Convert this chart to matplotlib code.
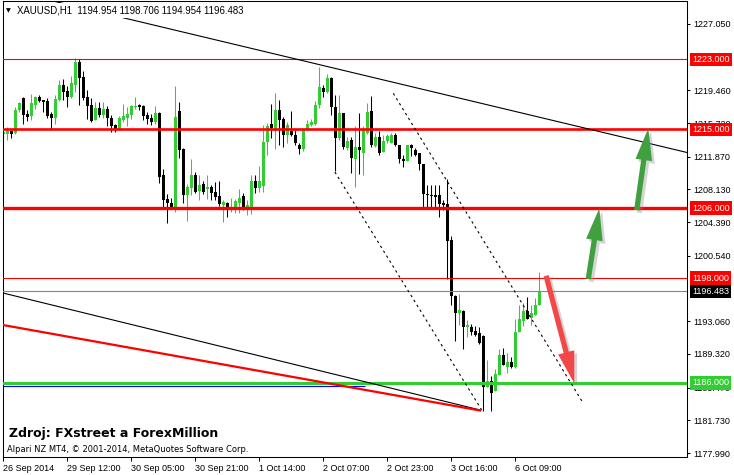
import matplotlib
matplotlib.use("Agg")
import matplotlib.pyplot as plt
import matplotlib.patheffects as pe
from matplotlib.transforms import blended_transform_factory
import numpy as np

plt.rcParams['font.family'] = ['Liberation Sans', 'DejaVu Sans']

# ---------------- data (XAUUSD, H1) ----------------
opens = [1214.43, 1214.50, 1214.81, 1214.58, 1217.18, 1218.55, 1216.72, 1216.49, 1217.78, 1218.70,
         1218.32, 1218.24, 1216.72, 1216.26, 1218.39, 1220.07, 1219.38, 1218.70, 1220.07, 1222.73,
         1220.98, 1218.70, 1217.78, 1216.10, 1217.47, 1216.64, 1217.33, 1216.26, 1215.50, 1214.96,
         1216.10, 1216.26, 1216.64, 1217.55, 1217.78, 1217.70, 1216.64, 1216.33, 1215.87, 1216.87,
         1209.78, 1207.03, 1206.58, 1205.89, 1217.10, 1212.75, 1207.49, 1208.33, 1209.78, 1207.95,
         1208.78, 1208.18, 1208.41, 1207.87, 1207.41, 1206.35, 1206.58, 1205.89, 1205.89, 1206.58,
         1207.34, 1205.89, 1206.12, 1209.09, 1208.26, 1208.52, 1213.52, 1215.65, 1214.78, 1217.21,
         1216.22, 1214.32, 1214.78, 1214.32, 1213.24, 1212.72, 1215.00, 1215.53, 1215.61, 1217.75,
         1219.73, 1219.27, 1220.87, 1217.59, 1214.01, 1216.90, 1212.87, 1213.78, 1211.57, 1212.95,
         1212.26, 1214.62, 1217.06, 1213.09, 1214.09, 1212.41, 1213.63, 1213.40, 1214.32, 1213.18,
         1211.64, 1211.41, 1213.18, 1212.64, 1212.26, 1211.04, 1207.53, 1207.53, 1207.53, 1207.46,
         1206.61, 1206.46, 1202.35, 1195.94, 1193.96, 1194.26, 1192.36, 1192.43, 1191.91, 1191.75,
         1191.37, 1185.57, 1186.19, 1185.04, 1186.87, 1189.23, 1187.86, 1188.40, 1187.79, 1191.83,
         1193.12, 1194.26, 1193.43, 1193.80, 1194.954]
highs = [1215.04, 1215.27, 1214.96, 1217.55, 1218.09, 1218.70, 1217.18, 1219.01, 1218.78, 1218.93,
         1218.39, 1218.62, 1216.95, 1218.93, 1220.61, 1220.76, 1219.99, 1221.13, 1223.12, 1223.04,
         1221.67, 1219.53, 1218.62, 1218.16, 1218.16, 1218.16, 1217.70, 1216.64, 1215.61, 1216.49,
         1217.86, 1217.55, 1217.78, 1218.70, 1217.93, 1217.78, 1217.02, 1216.79, 1217.70, 1217.02,
         1210.46, 1207.64, 1207.11, 1219.92, 1218.16, 1212.90, 1208.72, 1211.61, 1210.09, 1209.78,
         1209.09, 1209.78, 1208.64, 1209.01, 1209.09, 1206.95, 1206.73, 1207.18, 1207.03, 1208.18,
         1207.72, 1206.89, 1209.78, 1209.78, 1210.84, 1215.50, 1215.72, 1217.93, 1219.12, 1218.36,
         1216.41, 1215.84, 1217.06, 1214.92, 1213.40, 1215.15, 1216.07, 1216.22, 1218.27, 1222.16,
         1220.10, 1221.33, 1220.95, 1218.96, 1218.96, 1216.90, 1214.16, 1214.09, 1215.38, 1216.90,
         1215.38, 1218.05, 1218.81, 1214.62, 1214.84, 1214.32, 1214.47, 1214.55, 1214.55, 1213.24,
         1212.03, 1213.24, 1213.32, 1212.87, 1212.33, 1211.04, 1208.64, 1208.67, 1208.67, 1208.67,
         1206.92, 1209.29, 1202.80, 1196.06, 1196.17, 1194.34, 1193.20, 1192.74, 1192.51, 1192.43,
         1191.52, 1188.62, 1186.79, 1187.63, 1189.92, 1190.00, 1189.46, 1189.00, 1193.35, 1194.95,
         1195.11, 1195.86, 1194.95, 1195.71, 1198.706]
lows = [1213.29, 1213.82, 1213.98, 1214.50, 1216.95, 1215.58, 1215.95, 1216.10, 1217.33, 1218.09,
        1217.02, 1216.26, 1215.04, 1215.65, 1218.24, 1218.39, 1217.55, 1218.62, 1219.30, 1217.78,
        1218.32, 1216.18, 1215.81, 1216.03, 1216.41, 1216.26, 1215.42, 1214.66, 1214.66, 1214.92,
        1215.81, 1215.35, 1216.18, 1217.33, 1217.18, 1216.10, 1215.65, 1215.50, 1215.65, 1208.86,
        1206.04, 1204.29, 1205.89, 1205.51, 1211.69, 1206.58, 1204.52, 1207.49, 1207.72, 1206.95,
        1207.64, 1207.03, 1206.95, 1206.89, 1206.27, 1204.44, 1204.98, 1205.58, 1205.43, 1205.43,
        1205.74, 1205.20, 1205.35, 1207.72, 1207.80, 1207.80, 1212.07, 1213.98, 1212.72, 1213.18,
        1213.02, 1213.40, 1214.24, 1213.18, 1212.18, 1212.49, 1214.92, 1215.38, 1215.46, 1217.44,
        1218.73, 1219.19, 1216.61, 1210.27, 1213.78, 1212.72, 1212.64, 1210.04, 1208.44, 1209.89,
        1209.74, 1214.47, 1212.95, 1213.02, 1212.03, 1212.41, 1213.47, 1213.40, 1213.09, 1211.12,
        1210.73, 1211.35, 1211.95, 1211.95, 1210.35, 1206.15, 1206.12, 1206.09, 1206.15, 1205.01,
        1205.77, 1197.92, 1194.95, 1190.83, 1192.59, 1189.85, 1191.22, 1191.45, 1191.37, 1190.45,
        1182.83, 1185.57, 1182.83, 1185.04, 1186.87, 1188.02, 1187.17, 1187.71, 1187.71, 1191.83,
        1192.51, 1193.35, 1192.59, 1193.80, 1194.954]
closes = [1214.73, 1214.81, 1214.50, 1217.18, 1218.01, 1216.64, 1216.41, 1218.01, 1218.70, 1218.24,
          1218.16, 1216.49, 1216.26, 1218.47, 1220.07, 1219.24, 1218.70, 1220.30, 1222.73, 1220.90,
          1218.62, 1217.70, 1215.95, 1217.41, 1216.64, 1217.33, 1216.26, 1215.42, 1214.96, 1216.33,
          1216.49, 1216.79, 1217.70, 1217.70, 1217.55, 1216.56, 1216.18, 1215.87, 1216.87, 1209.55,
          1206.95, 1206.58, 1205.97, 1216.41, 1212.67, 1207.49, 1208.41, 1209.78, 1207.87, 1208.64,
          1207.80, 1208.41, 1207.72, 1207.26, 1206.43, 1206.66, 1205.89, 1206.12, 1206.81, 1207.18,
          1205.89, 1206.35, 1209.09, 1208.26, 1209.09, 1213.52, 1215.35, 1215.19, 1217.21, 1216.07,
          1214.32, 1215.46, 1214.32, 1213.40, 1212.72, 1215.07, 1215.61, 1215.84, 1217.75, 1219.81,
          1219.27, 1220.87, 1217.59, 1214.01, 1216.90, 1213.02, 1213.63, 1211.72, 1212.95, 1212.64,
          1215.00, 1216.98, 1213.24, 1214.09, 1212.33, 1213.70, 1214.24, 1214.39, 1213.18, 1211.57,
          1211.41, 1213.18, 1212.87, 1212.10, 1211.04, 1207.61, 1207.46, 1207.38, 1207.30, 1206.46,
          1206.38, 1202.27, 1195.94, 1193.96, 1194.34, 1192.36, 1192.59, 1191.83, 1191.52, 1190.53,
          1185.57, 1186.19, 1184.88, 1187.02, 1189.23, 1188.02, 1188.40, 1187.79, 1191.83, 1193.35,
          1194.26, 1193.35, 1194.03, 1194.95, 1196.483]

time_labels = ["26 Sep 2014", "29 Sep 12:00", "30 Sep 05:00", "30 Sep 21:00", "1 Oct 14:00",
               "2 Oct 07:00", "2 Oct 23:00", "3 Oct 16:00", "6 Oct 09:00"]
time_label_bars = [0, 16, 32, 48, 64, 80, 96, 112, 128]

price_ticks = [1227.050, 1219.460, 1215.720, 1211.870, 1208.130, 1204.390,
               1200.540, 1193.060, 1189.320, 1185.470, 1181.730, 1177.990]

resistance_levels = [1223.0, 1215.0, 1206.0, 1198.0]
support_level = 1186.0
bid_price = 1196.483
blue_level = 1185.69

# trend lines: (bar index, price) pairs
trend_top = [(27.9, 1227.99), (147.1, 1214.96)]
channel_upper = [(97.5, 1219.12), (145.0, 1183.67)]
channel_lower = [(82.9, 1210.12), (119.6, 1182.91)]
long_black = [(-0.1, 1196.29), (119.2, 1182.91)]
long_red = [(-0.1, 1192.63), (119.2, 1182.85)]

# arrows: (tail, tip)
green_arrows = [((146.25, 1197.89), (149.0, 1205.97)), ((158.35, 1205.77), (161.25, 1215.12))]
red_arrow = ((135.7, 1198.26), (142.75, 1185.96))

# ---------------- figure ----------------
W, H = 734, 475
fig = plt.figure(figsize=(W / 100, H / 100), dpi=100)
L, R, T, B = 2.7, 686.7, 1.0, 457.3
ax = fig.add_axes([L / W, 1 - B / H, (R - L) / W, (B - T) / H])
ax.set_xlim(-0.15, 170.85)
ax.set_ylim(1177.50, 1229.68)

GREEN = '#32CD32'
o = np.array(opens); h = np.array(highs); l = np.array(lows); c = np.array(closes)
x = np.arange(len(o))
up = c >= o
cols = np.where(up, GREEN, 'black')
ax.vlines(x, l, h, colors=cols, linewidth=0.75, zorder=2)
body_bottom = np.minimum(o, c)
body_h = np.maximum(np.abs(c - o), 0.11)
ax.bar(x, body_h, bottom=body_bottom, width=0.75, color=cols, linewidth=0, zorder=2.1,
       antialiased=False)

# horizontal levels
ax.axhline(resistance_levels[0], color='red', lw=0.8, zorder=4)
ax.axhline(resistance_levels[1], color='red', lw=1.9, zorder=4)
ax.axhline(resistance_levels[2], color='red', lw=2.4, zorder=4)
ax.axhline(resistance_levels[3], color='red', lw=0.8, zorder=4)
ax.axhline(bid_price, color='#778899', lw=0.8, zorder=4)
ax.axhline(support_level, color=GREEN, lw=2.2, zorder=4)
ax.hlines(blue_level, -1, 90.4, color='#0000FF', lw=0.8, zorder=4)


def extend(pts, x0, x1):
    (xa, ya), (xb, yb) = pts
    s = (yb - ya) / (xb - xa)
    return [x0, x1], [ya + s * (x0 - xa), ya + s * (x1 - xa)]


xs, ys = extend(trend_top, 5, 180)
ax.plot(xs, ys, color='black', lw=0.8, zorder=4)
for pts in (channel_upper, channel_lower):
    (xa, ya), (xb, yb) = pts
    ax.plot([xa, xb], [ya, yb], color='black', lw=0.8, linestyle=(0, (2.2, 3.0)), zorder=4)
xs, ys = extend(long_black, -2, long_black[1][0])
ax.plot(xs, ys, color='black', lw=0.8, zorder=4)
xs, ys = extend(long_red, -2, long_red[1][0])
ax.plot(xs, ys, color='#FF0000', lw=1.6, zorder=4)

shadow = [pe.SimplePatchShadow(offset=(2, -2), shadow_rgbFace='#888888', alpha=0.35), pe.Normal()]
style = 'simple,head_length=23,head_width=12,tail_width=3.8'
for tail, tip in green_arrows:
    ax.annotate('', xy=tip, xytext=tail,
                arrowprops=dict(arrowstyle=style, mutation_scale=1, fc='#40A040', ec='none',
                                shrinkA=0, shrinkB=0, path_effects=shadow),
                annotation_clip=False, zorder=6)
ax.annotate('', xy=red_arrow[1], xytext=red_arrow[0],
            arrowprops=dict(arrowstyle=style, mutation_scale=1, fc='#F24848', ec='none',
                            shrinkA=0, shrinkB=0, path_effects=shadow),
            annotation_clip=False, zorder=6)

# axes styling
for sp in ax.spines.values():
    sp.set_linewidth(0.75)
    sp.set_color('black')
ax.yaxis.tick_right()
ax.set_yticks(price_ticks)
ax.set_yticklabels([f"{v:.3f}" for v in price_ticks])
ax.tick_params(axis='y', direction='out', length=2.5, width=0.75, pad=2.2, labelsize=6.5)
ax.set_xticks(time_label_bars)
ax.set_xticklabels(time_labels)
for t in ax.get_xticklabels():
    t.set_ha('left')
ax.tick_params(axis='x', direction='out', length=3, width=0.75, pad=1.5, labelsize=6.5)

# price tags on the right axis
tr = blended_transform_factory(ax.transAxes, ax.transData)
tag_x = (692 - L) / (R - L)
tags = [(resistance_levels[0], '#FF0000'), (resistance_levels[1], '#FF0000'),
        (resistance_levels[2], '#FF0000'), (resistance_levels[3], '#FF0000'),
        (bid_price, '#000000'), (support_level, GREEN)]
for val, fc in tags:
    ax.text(tag_x, val, f"{val:.3f}", transform=tr, color='white', fontsize=6.5,
            va='center', ha='left', clip_on=False, zorder=10,
            bbox=dict(boxstyle='square,pad=0.25', fc=fc, ec='none'))

# header and notes
fig.text(6 / W, 1 - 12.5 / H, '\u25BC', fontsize=4.5, family='DejaVu Sans', va='baseline')
fig.text(17.3 / W, 1 - 13.5 / H, "XAUUSD,H1  1194.954 1198.706 1194.954 1196.483",
         fontsize=6.9, va='baseline', ha='left',
         bbox=dict(boxstyle='square,pad=0.3', fc='white', ec='none'))
fig.text(9.3 / W, 1 - 436.7 / H, "Zdroj: FXstreet a ForexMillion", fontsize=9.0,
         family='DejaVu Sans', weight='bold', va='baseline', ha='left')
fig.text(7.3 / W, 1 - 452.5 / H, "Alpari NZ MT4, \u00A9 2001-2014, MetaQuotes Software Corp.",
         fontsize=6.0, family='DejaVu Sans', va='baseline', ha='left')

fig.savefig('out.png', dpi=100)
